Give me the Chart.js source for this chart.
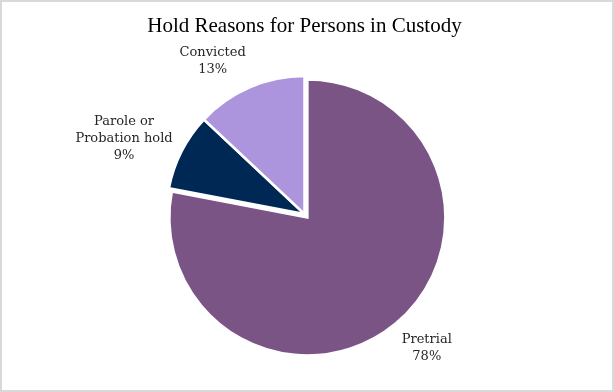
<!DOCTYPE html>
<html>
<head>
<meta charset="utf-8">
<script src="https://cdn.jsdelivr.net/npm/chart.js@4/dist/chart.umd.min.js"></script>
<style>
  html, body { margin: 0; padding: 0; background: #fff; }
  .frame {
    width: 614px; height: 392px; box-sizing: border-box;
    border: 2px solid #d9d9d9; position: relative;
  }
  .frame canvas { display: block; }
</style>
</head>
<body>
<div class="frame"><canvas id="chart" width="610" height="388"></canvas></div>
<script>
// data
const categories = ['Pretrial', 'Parole or Probation hold', 'Convicted'];
const labelLines = [['Pretrial'], ['Parole or', 'Probation hold'], ['Convicted']];
const shares = [78, 9, 13];
const sliceColors = ['#7B5486', '#002855', '#AD95DD'];
const sliceExplode = [4.5, 0, 0]; // px the slice is pulled out, same radius as the rest

const serif = "'DejaVu Serif', 'Liberation Serif', serif";

const clamp = v => Math.max(-1, Math.min(1, v));

// draw arcs ourselves so a pulled-out slice keeps its radius
const explodedArcs = {
    id: 'explodedArcs',
    beforeDatasetDraw(chart, args) {
        const ctx = chart.ctx;
        args.meta.data.forEach((arc, i) => {
            const mid = (arc.startAngle + arc.endAngle) / 2;
            const d = sliceExplode[i] || 0;
            ctx.save();
            ctx.translate(Math.cos(mid) * d, Math.sin(mid) * d);
            arc.draw(ctx);
            ctx.restore();
        });
        return false;
    }
};

// outside labels: box corner sits just past the arc edge at its middle angle
const outsideLabels = {
    id: 'outsideLabels',
    afterDatasetsDraw(chart) {
        const ctx = chart.ctx;
        const meta = chart.getDatasetMeta(0);
        ctx.save();
        ctx.font = `13px ${serif}`;
        ctx.fillStyle = '#262626';
        ctx.textAlign = 'center';
        ctx.textBaseline = 'middle';
        const lh = 17;
        const gap = 10;
        meta.data.forEach((arc, i) => {
            const lines = [...labelLines[i], shares[i] + '%'];
            const w = Math.max(...lines.map(s => ctx.measureText(s).width));
            const h = lines.length * lh;
            const mid = (arc.startAngle + arc.endAngle) / 2;
            const cx = Math.cos(mid), cy = Math.sin(mid);
            const dist = arc.outerRadius + (sliceExplode[i] || 0) + gap;
            const ax = arc.x + cx * dist;
            const ay = arc.y + cy * dist;
            const fx = 0.5 - 0.5 * clamp(cx * 3);
            const fy = 0.5 - 0.5 * clamp(cy * Math.abs(cy) * 1.6);
            const left = ax - fx * w;
            const top = ay - fy * h;
            lines.forEach((s, k) => {
                ctx.fillText(s, left + w / 2, top + lh / 2 + k * lh);
            });
        });
        ctx.restore();
    }
};

new Chart(document.getElementById('chart'), {
    type: 'pie',
    data: {
        labels: categories,
        datasets: [{
            data: shares,
            backgroundColor: sliceColors,
            borderColor: '#ffffff',
            borderWidth: 2.5,
            borderJoinStyle: 'miter'
        }]
    },
    options: {
        responsive: false,
        animation: false,
        layout: { padding: { top: 0, bottom: 36.75, left: 0, right: 5 } },
        plugins: {
            legend: { display: false },
            tooltip: { enabled: false },
            title: {
                display: true,
                text: 'Hold Reasons for Persons in Custody',
                color: '#000',
                font: { family: "'Liberation Serif', serif", size: 21, weight: 'normal' },
                padding: { top: 11.5, bottom: 36.05 }
            }
        }
    },
    plugins: [explodedArcs, outsideLabels]
});
</script>
</body>
</html>
